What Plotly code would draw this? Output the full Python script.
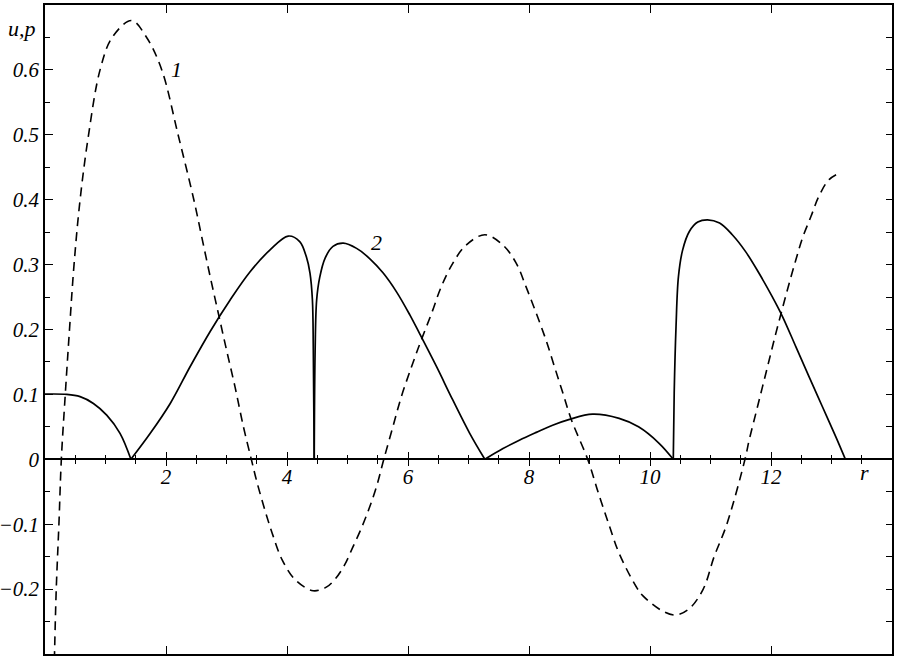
import plotly.graph_objects as go

# ---- curve 1 (dashed): p(r) ----
p_r = [0.155, 0.186, 0.23, 0.27, 0.335, 0.405, 0.48, 0.58, 0.72, 0.91, 1.11, 1.43, 1.68, 1.93,
       2.20, 2.46, 2.59, 2.73, 2.865, 3.00, 3.14, 3.28, 3.41, 3.50, 3.64, 3.77, 3.92, 4.13, 4.43,
       4.65, 4.80, 4.95, 5.09, 5.23, 5.36, 5.48, 5.60, 5.75, 5.89, 6.06, 6.22, 6.39, 6.55, 6.74, 6.96,
       7.27, 7.57, 7.79, 7.95, 8.12, 8.28, 8.42, 8.56, 8.70, 8.97, 9.15, 9.33, 9.49, 9.77, 9.88,
       10.21, 10.43, 10.65, 10.88, 11.06, 11.27, 11.57, 11.64, 11.75, 11.86, 11.97, 12.08, 12.19,
       12.30, 12.41, 12.52, 12.66, 12.79, 12.96, 13.15]
p_val = [-0.31, -0.2, -0.1, 0.0, 0.1, 0.2, 0.3, 0.4, 0.5, 0.6, 0.65, 0.676, 0.65, 0.6,
         0.5, 0.40, 0.343, 0.2815, 0.225, 0.1685, 0.112, 0.05, 0.0, -0.034, -0.080, -0.118, -0.155, -0.185, -0.2025,
         -0.197, -0.184, -0.163, -0.135, -0.106, -0.075, -0.042, 0.0, 0.050, 0.0965, 0.143, 0.184, 0.225, 0.266, 0.302, 0.330,
         0.346, 0.330, 0.302, 0.266, 0.225, 0.184, 0.143, 0.102, 0.061, 0.0, -0.053, -0.103, -0.145, -0.196, -0.210,
         -0.234, -0.240, -0.23, -0.2, -0.15, -0.1, 0.0, 0.030, 0.071, 0.112, 0.153, 0.194, 0.233,
         0.271, 0.307, 0.341, 0.374, 0.405, 0.431, 0.442]

# ---- curve 2 (solid): |u(r)|, humps separated by None ----
u_r = [0.0, 0.36, 0.58, 0.80, 1.02, 1.24, 1.42, None,
       1.42, 1.74, 2.07, 2.40, 2.73, 3.06, 3.39, 3.72, 4.02, 4.21, 4.32, 4.38, 4.42, 4.435, 4.45, None,
       4.45, 4.465, 4.49, 4.54, 4.63, 4.76, 4.93, 5.15, 5.37, 5.59, 5.81, 6.03, 6.19, 6.47, 6.74, 7.02, 7.27, None,
       7.27, 7.57, 7.84, 8.12, 8.39, 8.67, 9.05, 9.49, 9.81, 10.15, 10.385, None,
       10.385, 10.40, 10.43, 10.47, 10.54, 10.65, 10.79, 10.95, 11.15, 11.36, 11.58, 11.80, 12.02,
       12.19, 12.41, 12.63, 12.85, 13.07, 13.23]
u_val = [0.1005, 0.1, 0.0965, 0.086, 0.068, 0.040, 0.0, None,
         0.0, 0.040, 0.086, 0.143, 0.197, 0.2455, 0.289, 0.3227, 0.344, 0.3355, 0.312, 0.287, 0.2455, 0.168, 0.0, None,
         0.0, 0.168, 0.2455, 0.280, 0.310, 0.328, 0.333, 0.325, 0.309, 0.287, 0.258, 0.2225, 0.194, 0.143, 0.0914, 0.040, 0.0, None,
         0.0, 0.0165, 0.0295, 0.0415, 0.0525, 0.0615, 0.0695, 0.063, 0.050, 0.0247, 0.0, None,
         0.0, 0.102, 0.204, 0.2815, 0.3227, 0.351, 0.3655, 0.369, 0.364, 0.346, 0.320, 0.287, 0.2507,
         0.220, 0.1736, 0.127, 0.081, 0.035, 0.0]

# ---- ticks ----
x_major = [2, 4, 6, 8, 10, 12]
x_major_text = ["2", "4", "6", "8", "10", "12"]
x_minor = [0.5, 1, 1.5, 2.5, 3, 3.5, 4.5, 5, 5.5, 6.5, 7, 7.5, 8.5, 9, 9.5,
           10.5, 11, 11.5, 12.5, 13, 13.5]
y_major = [-0.2, -0.1, 0, 0.1, 0.2, 0.3, 0.4, 0.5, 0.6]
y_major_text = ["\u22120.2", "\u22120.1", "0", "0.1", "0.2", "0.3", "0.4", "0.5", "0.6"]
y_minor = [-0.25, -0.15, -0.05, 0.05, 0.15, 0.25, 0.35, 0.45, 0.55, 0.65]
y_right = [-0.25, -0.2, -0.15, -0.1, -0.05, 0, 0.05, 0.1, 0.15, 0.2, 0.25, 0.3,
           0.35, 0.4, 0.45, 0.5, 0.55, 0.6, 0.65]

X_RANGE = [0, 14]
Y_RANGE = [-0.3, 0.7]
FONT = "Liberation Serif"
tfont = dict(family=FONT, size=21, color="black", style="italic")

fig = go.Figure()
fig.add_trace(go.Scatter(x=p_r, y=p_val, mode="lines",
                         line=dict(color="black", width=1.6, dash="9px,6px", shape="spline", smoothing=1.0),
                         showlegend=False, hoverinfo="skip"))
fig.add_trace(go.Scatter(x=u_r, y=u_val, mode="lines", connectgaps=False,
                         line=dict(color="black", width=1.7, shape="spline", smoothing=1.0),
                         showlegend=False, hoverinfo="skip"))

common_free = dict(range=X_RANGE, anchor="free", position=0.3, showgrid=False, zeroline=False,
                   automargin=False, tickmode="array", tickvals=x_major)

fig.update_layout(
    template="none",
    width=899, height=665,
    margin=dict(l=45, r=7, t=5, b=11, pad=0, autoexpand=False),
    paper_bgcolor="white", plot_bgcolor="white",
    showlegend=False,
    # labels of the r axis (drawn at u,p = 0)
    xaxis=dict(**common_free, showline=False, ticks="", ticktext=x_major_text, tickfont=tfont,
               ticklabelstandoff=3),
    # r axis line + downward ticks
    xaxis2=dict(**common_free, overlaying="x", showline=True, linecolor="black", linewidth=1.5,
                ticks="outside", ticklen=6, tickwidth=1, tickcolor="black", showticklabels=False,
                minor=dict(tickmode="array", tickvals=x_minor, ticks="outside", ticklen=4,
                           tickwidth=1, tickcolor="black", showgrid=False)),
    # upward ticks
    xaxis4=dict(**common_free, overlaying="x", showline=False,
                ticks="inside", ticklen=7, tickwidth=1, tickcolor="black", showticklabels=False,
                minor=dict(tickmode="array", tickvals=x_minor, ticks="inside", ticklen=4,
                           tickwidth=1, tickcolor="black", showgrid=False)),
    # bottom / top frame
    xaxis3=dict(range=X_RANGE, overlaying="x", anchor="y", side="bottom", showgrid=False,
                automargin=False,
                zeroline=False, showline=True, linecolor="black", linewidth=1.5, mirror="ticks",
                tickmode="array", tickvals=x_major, ticks="inside", ticklen=8, tickwidth=1,
                tickcolor="black", showticklabels=False),
    yaxis=dict(range=Y_RANGE, showgrid=False, zeroline=False, showline=True, linecolor="black",
               automargin=False,
               linewidth=1.5, tickmode="array", tickvals=y_major, ticktext=y_major_text,
               ticks="inside", ticklen=8, tickwidth=1, tickcolor="black", tickfont=tfont,
               minor=dict(tickmode="array", tickvals=y_minor, ticks="inside", ticklen=5,
                          tickwidth=1, tickcolor="black", showgrid=False)),
    yaxis2=dict(range=Y_RANGE, overlaying="y", anchor="x", side="right", showgrid=False,
                automargin=False,
                zeroline=False, showline=True, linecolor="black", linewidth=1.5,
                tickmode="array", tickvals=y_right, ticks="inside", ticklen=6, tickwidth=1,
                tickcolor="black", showticklabels=False),
)

# invisible traces so the overlay axes render
fig.add_trace(go.Scatter(x=[None], y=[None], xaxis="x2", yaxis="y", showlegend=False, hoverinfo="skip"))
fig.add_trace(go.Scatter(x=[None], y=[None], xaxis="x4", yaxis="y", showlegend=False, hoverinfo="skip"))
fig.add_trace(go.Scatter(x=[None], y=[None], xaxis="x3", yaxis="y2", showlegend=False, hoverinfo="skip"))

afont = dict(family=FONT, size=22, color="black", style="italic")
fig.add_annotation(x=-0.027, y=0.9645, xref="paper", yref="paper", text="u,p", showarrow=False,
                   font=afont, xanchor="center", yanchor="middle")
fig.add_annotation(x=2.17, y=0.601, xref="x", yref="y", text="1", showarrow=False, font=afont)
fig.add_annotation(x=5.48, y=0.3335, xref="x", yref="y", text="2", showarrow=False, font=afont)
fig.add_annotation(x=13.54, y=-0.0196, xref="x", yref="y", text="r", showarrow=False, font=afont)

fig.write_html("out.html", config={"displayModeBar": False},
               post_script="document.body.style.margin='0px';")
